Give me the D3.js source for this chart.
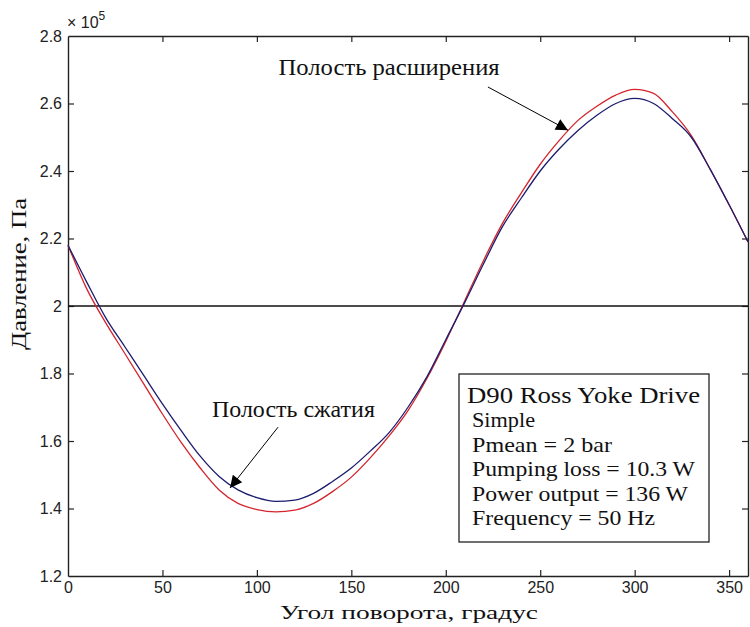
<!DOCTYPE html>
<html>
<head>
<meta charset="utf-8">
<script src="https://cdn.jsdelivr.net/npm/d3@7"></script>
<style>
  html, body { margin: 0; padding: 0; background: #fff; }
  svg { display: block; }
</style>
</head>
<body>
<svg id="chart" width="750" height="627"></svg>
<script>
// Crank angle, degrees
const angles = [0, 10, 20, 30, 40, 50, 60, 70, 80, 90, 100, 110, 120, 130, 140, 150, 160, 170, 180,
                190, 200, 210, 220, 230, 240, 250, 260, 270, 280, 290, 300, 310, 320, 330, 340, 350, 360];

// Pressure in the compression space, ×10^5 Pa
const compression = [2.18, 2.07, 1.965, 1.88, 1.795, 1.71, 1.63, 1.555, 1.495, 1.455, 1.432, 1.421, 1.425,
                     1.445, 1.48, 1.52, 1.57, 1.625, 1.70, 1.79, 1.90, 2.01, 2.125, 2.235, 2.32, 2.40,
                     2.465, 2.52, 2.565, 2.60, 2.615, 2.60, 2.555, 2.50, 2.405, 2.30, 2.19];

// Pressure in the expansion space, ×10^5 Pa
const expansion = [2.18, 2.05, 1.95, 1.86, 1.77, 1.68, 1.595, 1.52, 1.455, 1.415, 1.397, 1.39, 1.395,
                   1.415, 1.45, 1.493, 1.55, 1.615, 1.69, 1.785, 1.895, 2.015, 2.135, 2.245, 2.335, 2.42,
                   2.49, 2.55, 2.592, 2.625, 2.642, 2.63, 2.575, 2.505, 2.405, 2.30, 2.19];

const meanPressure = 2.0;

const xTicks = [0, 50, 100, 150, 200, 250, 300, 350];
const yTicks = [1.2, 1.4, 1.6, 1.8, 2.0, 2.2, 2.4, 2.6, 2.8];

const infoTitle = "D90 Ross Yoke Drive";
const infoLines = ["Simple", "Pmean = 2 bar", "Pumping loss = 10.3 W",
                   "Power output = 136 W", "Frequency = 50 Hz"];

const svg = d3.select("#chart");
const L = 68, R = 748, T = 36, B = 576;

const x = d3.scaleLinear().domain([0, 360]).range([L, R]);
const y = d3.scaleLinear().domain([1.2, 2.8]).range([B, T]);

const axisColor = "#222";
const tickFont = "'Liberation Sans', Arial, sans-serif";
const serif = "'Liberation Serif', 'Times New Roman', serif";

// Axes with inward ticks on all four sides
const gB = svg.append("g").attr("transform", `translate(0,${B})`)
  .call(d3.axisBottom(x).tickValues(xTicks).tickSizeInner(-6).tickSizeOuter(0).tickPadding(6).tickFormat(d3.format("d")));
const gT = svg.append("g").attr("transform", `translate(0,${T})`)
  .call(d3.axisTop(x).tickValues(xTicks).tickSizeInner(-6).tickSizeOuter(0).tickFormat(""));
const gL = svg.append("g").attr("transform", `translate(${L},0)`)
  .call(d3.axisLeft(y).tickValues(yTicks).tickSizeInner(-6).tickSizeOuter(0).tickPadding(6)
    .tickFormat(d => d === 2 ? "2" : d3.format(".1f")(d)));
const gR = svg.append("g").attr("transform", `translate(${R},0)`)
  .call(d3.axisRight(y).tickValues(yTicks).tickSizeInner(-6).tickSizeOuter(0).tickFormat(""));

[gB, gT, gL, gR].forEach(g => {
  g.select(".domain").attr("stroke", axisColor).attr("stroke-width", 1.4);
  g.selectAll(".tick line").attr("stroke", axisColor).attr("stroke-width", 1.2);
  g.selectAll(".tick text").attr("fill", "#222").attr("font-family", tickFont).attr("font-size", 16);
});
// Hide tick marks that would sit on the box corners
gL.selectAll(".tick").filter(d => d === 1.2 || d === 2.8).select("line").remove();
gR.selectAll(".tick").filter(d => d === 1.2 || d === 2.8).select("line").remove();
gB.selectAll(".tick").filter(d => d === 0).select("line").remove();
gT.selectAll(".tick").filter(d => d === 0).select("line").remove();

// Exponent label
const expo = svg.append("text").attr("x", L - 1).attr("y", 28)
  .attr("font-family", tickFont).attr("font-size", 16).attr("fill", "#222");
expo.append("tspan").text("× 10");
expo.append("tspan").attr("dy", -8).attr("font-size", 12).text("5");

// Mean pressure line
svg.append("line")
  .attr("x1", x(0)).attr("x2", x(360))
  .attr("y1", y(meanPressure)).attr("y2", y(meanPressure))
  .attr("stroke", "#111").attr("stroke-width", 1.3);

// Pressure curves
const line = d3.line()
  .x((d, i) => x(angles[i]))
  .y(d => y(d))
  .curve(d3.curveMonotoneX);

svg.append("path").datum(expansion)
  .attr("d", line).attr("fill", "none")
  .attr("stroke", "#d4242c").attr("stroke-width", 1.3);

svg.append("path").datum(compression)
  .attr("d", line).attr("fill", "none")
  .attr("stroke", "#1c1c6e").attr("stroke-width", 1.3);

// Arrowhead marker
svg.append("defs").append("marker")
  .attr("id", "arrow")
  .attr("viewBox", "0 0 10 10")
  .attr("refX", 10).attr("refY", 5)
  .attr("markerWidth", 16).attr("markerHeight", 12)
  .attr("markerUnits", "userSpaceOnUse")
  .attr("orient", "auto")
  .append("path").attr("d", "M0,0 L10,5 L0,10 Z").attr("fill", "#000");

// Annotations
const notes = [
  { text: "Полость расширения", width: 221, tx: 111.5, ty: 2.684, from: [222.3, 2.649], to: [264.7, 2.521] },
  { text: "Полость сжатия",     width: 163, tx: 76.2,  ty: 1.671, from: [111.2, 1.641], to: [85.8, 1.461] }
];
notes.forEach(n => {
  svg.append("text").attr("x", x(n.tx)).attr("y", y(n.ty))
    .attr("font-family", serif).attr("font-size", 23).attr("fill", "#111")
    .attr("textLength", n.width).attr("lengthAdjust", "spacingAndGlyphs")
    .text(n.text);
  svg.append("line")
    .attr("x1", x(n.from[0])).attr("y1", y(n.from[1]))
    .attr("x2", x(n.to[0])).attr("y2", y(n.to[1]))
    .attr("stroke", "#000").attr("stroke-width", 1)
    .attr("marker-end", "url(#arrow)");
});

// Info box
const box = svg.append("g").attr("transform", "translate(459,374)");
box.append("rect").attr("width", 250).attr("height", 168)
  .attr("fill", "#fff").attr("stroke", "#222").attr("stroke-width", 1.3);
box.append("text").attr("x", 8).attr("y", 29)
  .attr("font-family", serif).attr("font-size", 24).attr("fill", "#111")
  .attr("textLength", 233).attr("lengthAdjust", "spacingAndGlyphs")
  .text(infoTitle);
const infoWidths = [63, 140, 223, 216, 183];
box.selectAll("text.info").data(infoLines).join("text")
  .attr("class", "info")
  .attr("x", 13).attr("y", (d, i) => 53 + i * 24.6)
  .attr("font-family", serif).attr("font-size", 22).attr("fill", "#111")
  .attr("textLength", (d, i) => infoWidths[i]).attr("lengthAdjust", "spacingAndGlyphs")
  .text(d => d);

// Axis titles
svg.append("text").attr("x", 409).attr("y", 619).attr("text-anchor", "middle")
  .attr("font-family", serif).attr("font-size", 19).attr("fill", "#111")
  .attr("textLength", 258).attr("lengthAdjust", "spacingAndGlyphs")
  .text("Угол поворота, градус");
svg.append("text").attr("transform", "translate(26,274) rotate(-90)").attr("text-anchor", "middle")
  .attr("font-family", serif).attr("font-size", 20).attr("fill", "#111")
  .attr("textLength", 152).attr("lengthAdjust", "spacingAndGlyphs")
  .text("Давление, Па");
</script>
</body>
</html>
